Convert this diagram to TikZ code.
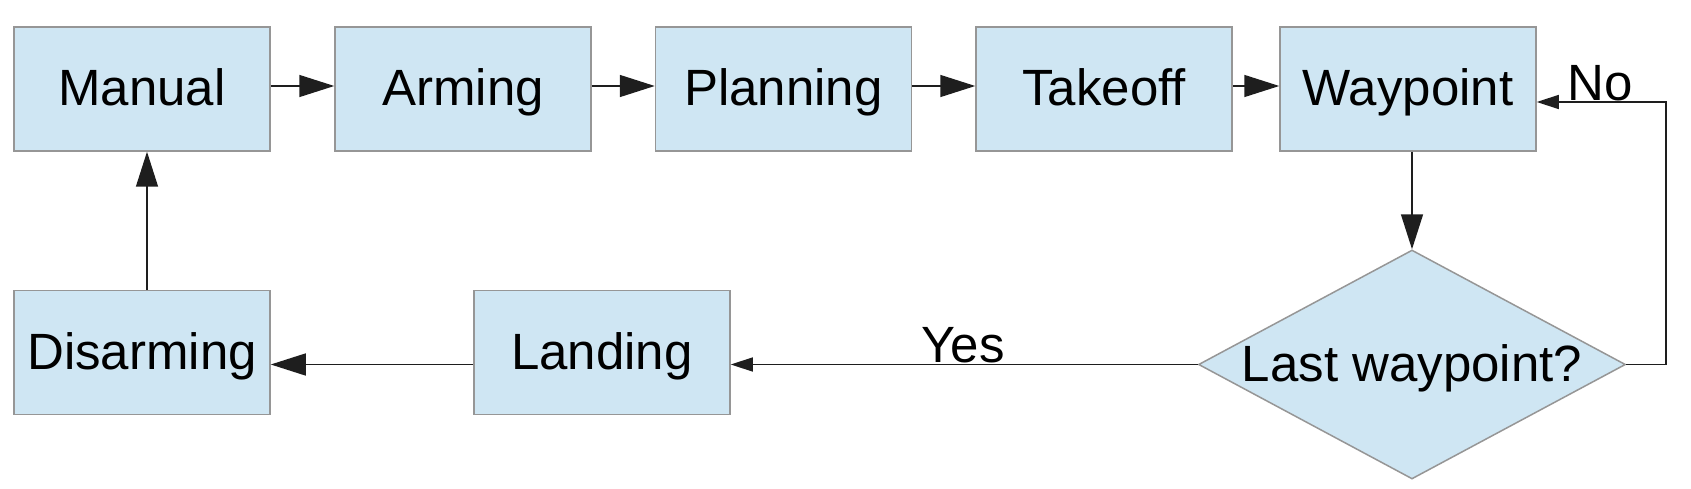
\documentclass[tikz,border=0pt]{standalone}
\usepackage{fontspec}
\setmainfont{Liberation Sans}
\usetikzlibrary{shapes.geometric,arrows.meta}
\definecolor{boxfill}{RGB}{207,230,243}
\definecolor{boxline}{RGB}{150,150,150}
\definecolor{conn}{RGB}{30,30,30}
\begin{document}
\begin{tikzpicture}[x=1pt,y=-1pt,
  every node/.style={font=\fontsize{51}{60}\selectfont},
  stbox/.style={draw=boxline,fill=boxfill,line width=1.5pt,minimum width=256pt,minimum height=124pt,inner sep=0pt,text height=37pt,text depth=3pt},
  decbox/.style={diamond,draw=boxline,fill=boxfill,line width=1.5pt,minimum width=427pt,minimum height=229pt,inner sep=0pt},
  bigarr/.style={draw=conn,line width=1.5pt,-{Triangle[length=35pt,width=22pt]}},
  smallarr/.style={draw=conn,line width=1.5pt,-{Triangle[length=22pt,width=14pt]}},
  lbl/.style={inner sep=0pt}]
\useasboundingbox (0,0) rectangle (1691,489);
\node[stbox] (man) at (142,89) {Manual};
\node[stbox] (arm) at (463,89) {Arming};
\node[stbox] (pla) at (783.5,89) {Planning};
\node[stbox] (tak) at (1104,89) {Takeoff};
\node[stbox] (way) at (1408,89) {Waypoint};
\node[stbox] (dis) at (142,352.5) {Disarming};
\node[stbox] (lan) at (602,352.5) {Landing};
\node[decbox] (lw) at (1412,364.5) {};
\node[lbl,text height=37pt,text depth=0pt] (lwt) at ([yshift=1.5pt]lw.center) {Last waypoint?};
\coordinate (nocorner) at (1666,364.5);
\draw[bigarr] ([yshift=3pt]man.east) -- ([yshift=3pt]arm.west);
\draw[bigarr] ([yshift=3pt]arm.east) -- ([yshift=3pt]pla.west);
\draw[bigarr] ([yshift=3pt]pla.east) -- ([yshift=3pt]tak.west);
\draw[bigarr] ([yshift=3pt]tak.east) -- ([yshift=3pt]way.west);
\draw[bigarr] (lw.north |- way.south) -- (lw.north);
\draw[smallarr] (lw.east) -- (nocorner) |- ([yshift=-13pt]way.east);
\draw[smallarr] (lw.west) -- (lw.west -| lan.east);
\draw[bigarr] (lan.west |- lw.west) -- (dis.east |- lw.west);
\draw[bigarr] ([xshift=5pt]dis.north) -- ([xshift=5pt]man.south);
\node[lbl] (yes) at (963,345) {Yes};
\node[lbl] (no) at (1600,83) {No};
\end{tikzpicture}
\end{document}
